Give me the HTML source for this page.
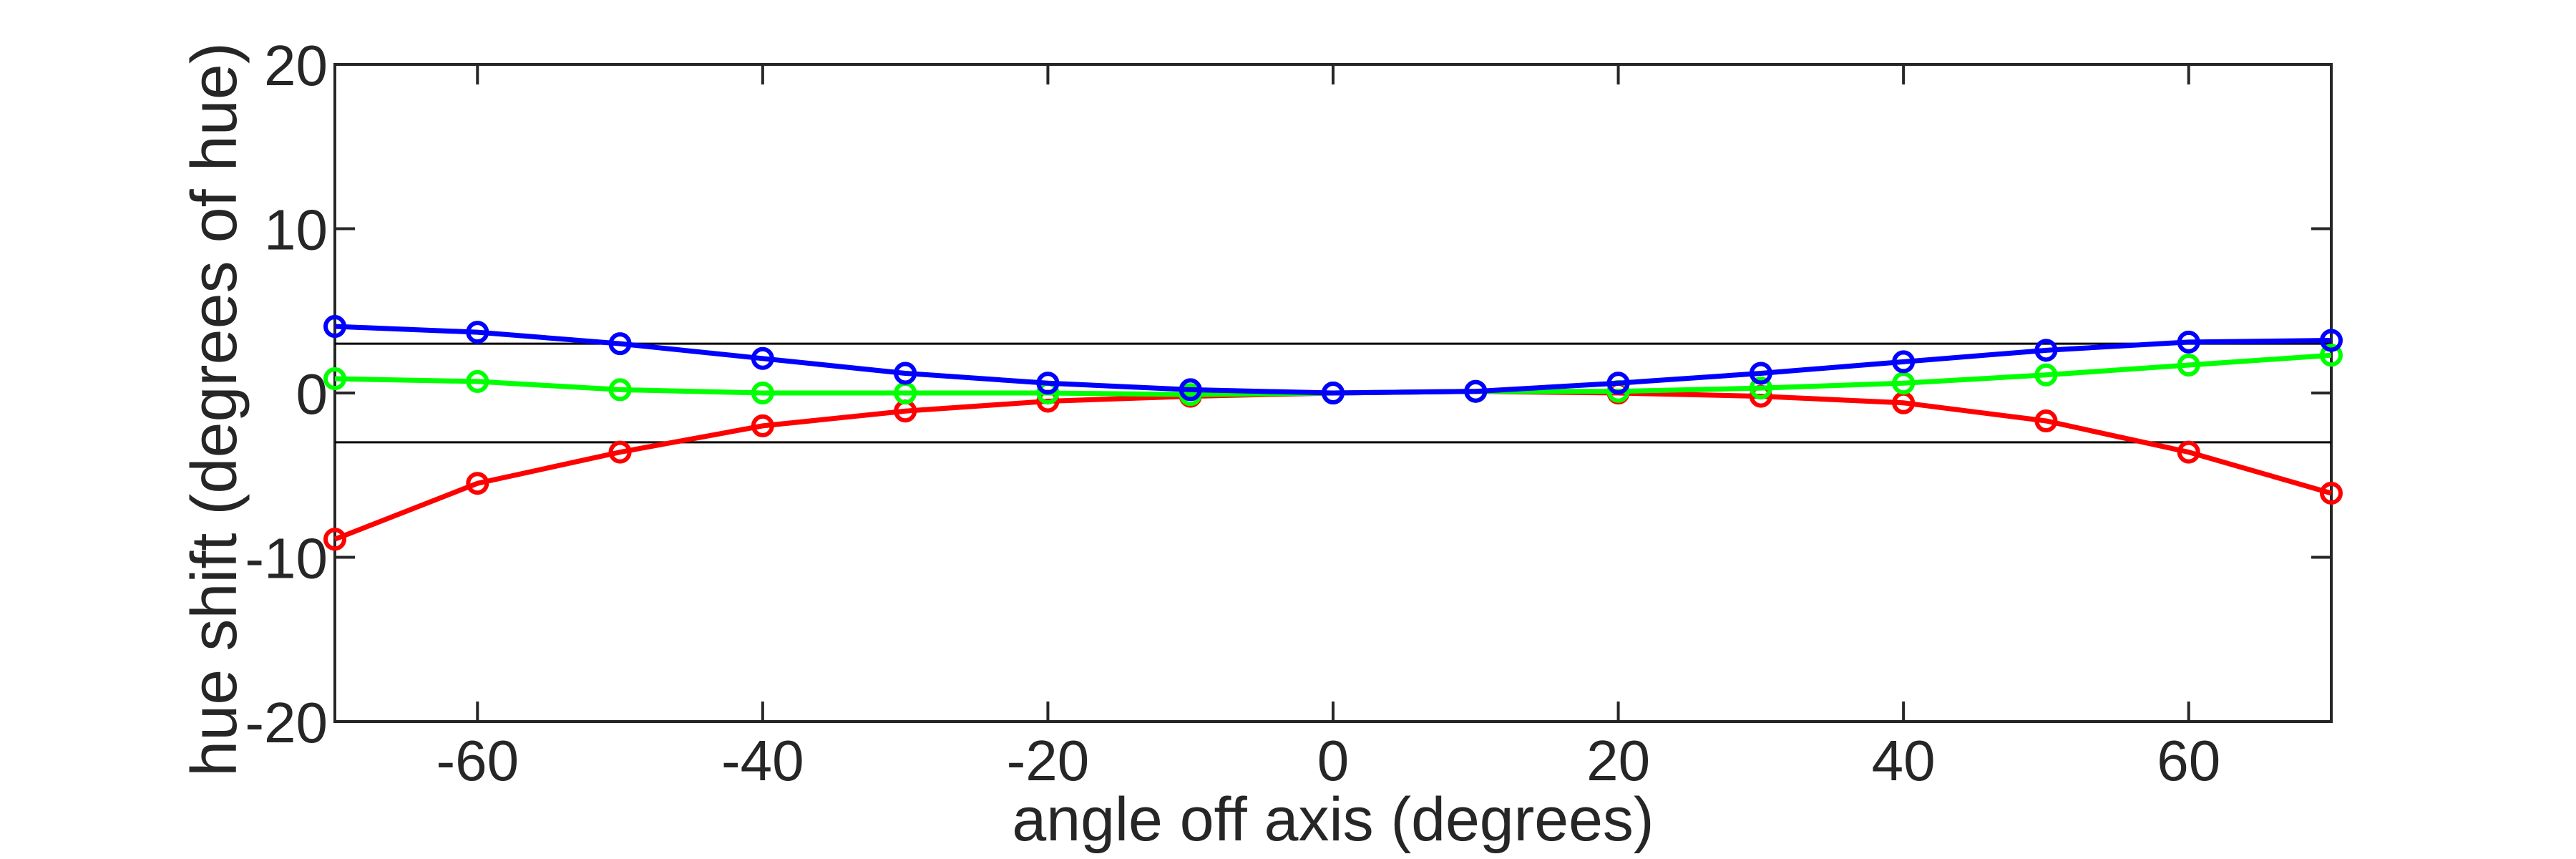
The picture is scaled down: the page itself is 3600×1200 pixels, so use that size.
<!DOCTYPE html>
<html><head><meta charset="utf-8"><style>
html,body{margin:0;padding:0;background:#fff;}
svg{display:block;}
text{font-family:"Liberation Sans",sans-serif;fill:#262626;}
</style></head><body>
<svg id="s" width="3600" height="1200" xmlns="http://www.w3.org/2000/svg">
<rect width="3600" height="1200" fill="#fff"/>
<g id="g"></g>
<text x="1863" y="1174" font-size="86" text-anchor="middle">angle off axis (degrees)</text>
<text transform="translate(330,572) rotate(-90)" font-size="90" text-anchor="middle">hue shift (degrees of hue)</text>
</svg>
<script>
const L=468,R=3258,T=90,B=1008;
const X=v=>L+(v+70)*(R-L)/140, Y=v=>B-(v+20)*(B-T)/40;
let h='';
h+=`<rect x="${L}" y="${T}" width="${R-L}" height="${B-T}" fill="none" stroke="#262626" stroke-width="4"/>`;
for(let v=-60;v<=60;v+=20){const x=X(v);h+=`<line x1="${x}" y1="${B}" x2="${x}" y2="${B-28}" stroke="#262626" stroke-width="4"/><line x1="${x}" y1="${T}" x2="${x}" y2="${T+28}" stroke="#262626" stroke-width="4"/>`;
h+=`<text x="${x}" y="1090" font-size="80" text-anchor="middle">${v<0?'-'+(-v):v}</text>`;}
for(let v=-20;v<=20;v+=10){const y=Y(v);h+=`<line x1="${L}" y1="${y}" x2="${L+28}" y2="${y}" stroke="#262626" stroke-width="4"/><line x1="${R}" y1="${y}" x2="${R-28}" y2="${y}" stroke="#262626" stroke-width="4"/>`;
h+=`<text x="${L-10}" y="${y+29}" font-size="80" text-anchor="end">${v<0?'-'+(-v):v}</text>`;}
[3,-3].forEach(v=>{h+=`<line x1="${L}" y1="${Y(v)}" x2="${R}" y2="${Y(v)}" stroke="#000" stroke-width="3"/>`;});
const xs=[-70,-60,-50,-40,-30,-20,-10,0,10,20,30,40,50,60,70];
const S=[["#ff0000",[-8.9,-5.5,-3.6,-2.0,-1.1,-0.5,-0.2,0,0.1,0,-0.2,-0.6,-1.7,-3.6,-6.1]],
["#00ff00",[0.87,0.7,0.2,0,0,0,-0.1,0,0.1,0.1,0.3,0.6,1.1,1.7,2.3]],
["#0000ff",[4.05,3.7,3.0,2.1,1.2,0.6,0.2,0,0.1,0.6,1.2,1.9,2.6,3.1,3.2]]];
S.forEach(([c,d])=>{h+=`<polyline fill="none" stroke="${c}" stroke-width="7" points="${xs.map((x,i)=>X(x)+','+Y(d[i])).join(' ')}"/>`;
xs.forEach((x,i)=>{h+=`<circle cx="${X(x)}" cy="${Y(d[i])}" r="13" fill="none" stroke="${c}" stroke-width="6"/>`;});});
document.getElementById('g').innerHTML=h;
</script>
</body></html>
